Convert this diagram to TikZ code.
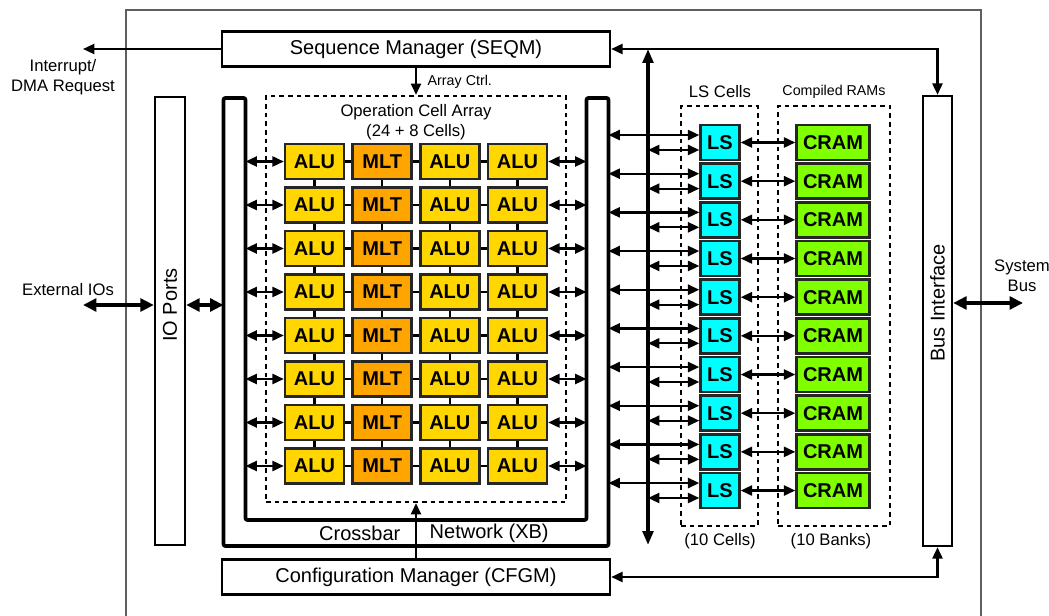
\documentclass[tikz,border=0pt]{standalone}
\usepackage{fontspec}
\setmainfont{Liberation Sans}
\usetikzlibrary{arrows.meta,positioning,calc}
\definecolor{alucolor}{RGB}{255,214,0}
\definecolor{mltcolor}{RGB}{255,165,0}
\definecolor{lscolor}{RGB}{0,255,255}
\definecolor{cramcolor}{RGB}{128,255,0}
\definecolor{framecolor}{RGB}{95,95,95}
\newcommand{\bigfont}{\fontsize{15}{18}\selectfont}
\newcommand{\midfont}{\fontsize{12.5}{15}\selectfont}
\newcommand{\smallfont}{\fontsize{10.7}{13}\selectfont}
\tikzset{
  blockbox/.style={draw, line width=1.8pt, minimum height=26.25pt, inner sep=0pt, font=\bigfont},
  cellbox/.style={draw=black!85, line width=1.8pt, minimum width=44.25pt, minimum height=26.25pt, inner sep=0pt, font=\bigfont\bfseries},
  lsbox/.style={cellbox, fill=lscolor, minimum width=29.25pt},
  crambox/.style={cellbox, fill=cramcolor, minimum width=54.75pt},
  groupbox/.style={draw, line width=1.7pt, dash pattern=on 3.5pt off 3pt, inner sep=0pt},
  celllink/.style={line width=1.6pt},
  biarrow/.style={{Triangle[length=8.5pt,width=7.5pt]}-{Triangle[length=8.5pt,width=7.5pt]}, line width=1.7pt},
  onearrow/.style={-{Triangle[length=8.5pt,width=7.5pt]}, line width=1.7pt},
  fatarrow/.style={{Triangle[length=10pt,width=9.5pt]}-{Triangle[length=10pt,width=9.5pt]}, line width=3pt},
  busarrow/.style={{Triangle[length=10.5pt,width=8pt]}-{Triangle[length=10.5pt,width=8pt]}, line width=2.5pt},
}

\begin{document}
\begin{tikzpicture}[x=0.75pt, y=-0.75pt]
  \useasboundingbox (0,0) rectangle (1049,616);
  % Chip outline (runs off the bottom edge)
  \draw[framecolor, line width=1.3pt] (126,640) |- (981,10) -- (981,640);

  % Managers and interfaces
  \node[blockbox, minimum width=291pt] (seqm) at (416,49) {Sequence Manager (SEQM)};
  \node[blockbox, minimum width=291pt] (cfgm) at (416,577) {Configuration Manager (CFGM)};
  \node[blockbox, minimum width=22.5pt, minimum height=336pt] (iop) at (170,321) {};
  \node[blockbox, minimum width=21.75pt, minimum height=337.5pt] (bif) at (937.5,321) {};
  \coordinate (extio) at (83,305);
  \coordinate (sysbus) at (1023,303);
  \node[font=\bigfont, rotate=90] (ioptext) at (iop |- extio) {IO Ports};
  \node[font=\bigfont, rotate=90] (biftext) at (bif |- sysbus) {Bus Interface};

  % Crossbar network (U shape)
  \draw[line width=2.8pt, rounded corners=1.5pt] (223.5,98) -- (223.5,546) -- (608.5,546) -- (608.5,98)
    -- (586.5,98) -- (586.5,520) -- (245.5,520) -- (245.5,98) -- cycle;
  \coordinate (xbW) at (223.5,0);
  \coordinate (xbL) at (245.5,0);
  \coordinate (xbR) at (586.5,0);
  \coordinate (xbE) at (608.5,0);
  \node[font=\bigfont, anchor=east] (xbname) at (405,533) {Crossbar};
  \node[font=\bigfont, anchor=west] (xbnet) at (425,533) {Network (XB)};

  % Operation cell array
  \node[groupbox, minimum width=225pt, minimum height=304.5pt] (oca) at (416,299) {};
  \node[font=\midfont, align=center] (ocaname) at (416,122) {Operation Cell Array\\(24 + 8 Cells)};
  \foreach \r in {1,...,8} {
    \foreach \c/\kind/\clr in {1/ALU/alucolor,2/MLT/mltcolor,3/ALU/alucolor,4/ALU/alucolor}
      \node[cellbox, fill=\clr] (cell-\c-\r) at ({314.5+67.67*(\c-1)},{161.5+43.5*(\r-1)}) {\kind};
    \foreach \c [evaluate=\c as \n using int(\c+1)] in {1,2,3}
      \draw[celllink] (cell-\c-\r) -- (cell-\n-\r);
    \draw[biarrow] (cell-1-\r.west) -- (cell-1-\r.west -| xbL);
    \draw[biarrow] (cell-4-\r.east) -- (cell-4-\r.east -| xbR);
  }
  \foreach \r [evaluate=\r as \n using int(\r+1)] in {1,...,7}
    \foreach \c in {1,...,4}
      \draw[celllink] (cell-\c-\r) -- (cell-\c-\n);

  % Control paths
  \draw[onearrow] (seqm.south) -- (oca.north);
  \node[font=\smallfont, anchor=west] (ctrl) at (423,82) {Array Ctrl.};
  \draw[onearrow] (cfgm.north) -- (oca.south);

  % LS cells and compiled RAMs
  \node[groupbox, minimum width=57.75pt, minimum height=315pt] (lsgrp) at (719.5,316) {};
  \node[groupbox, minimum width=84pt, minimum height=315pt] (ramgrp) at (834,316) {};
  \node[font=\midfont] (lsname) at (720,92) {LS Cells};
  \node[font=\smallfont] (ramname) at (834,92) {Compiled RAMs};
  \node[font=\midfont] (lscount) at (720,541) {(10 Cells)};
  \node[font=\midfont] (ramcount) at (831,541) {(10 Banks)};
  \coordinate (vbus) at (648,0);
  \foreach \k in {1,...,10} {
    \node[lsbox] (ls-\k) at (720,{142.5+38.67*(\k-1)}) {LS};
    \node[crambox] (cram-\k) at (833,{142.5+38.67*(\k-1)}) {CRAM};
    \draw[biarrow] (ls-\k) -- (cram-\k);
    \draw[biarrow] ([yshift=5.6pt]ls-\k.west) -- ([yshift=5.6pt]ls-\k.west -| xbE);
    \draw[biarrow] ([yshift=-5.6pt]ls-\k.west) -- ([yshift=-5.6pt]ls-\k.west -| vbus);
  }
  \coordinate (busend) at (648,545);
  \draw[busarrow] (seqm.east -| vbus) -- (busend);

  % Bus interface links
  \draw[biarrow] (seqm.east) -| (bif.north);
  \draw[biarrow] (cfgm.east) -| (bif.south);

  % External connections
  \coordinate (irq) at (83,49);
  \draw[onearrow] (seqm.west) -- (irq);
  \node[font=\midfont, align=center] (irqname) at (63,77) {Interrupt/\\DMA Request};
  \draw[fatarrow] (extio) -- (extio -| iop.west);
  \draw[fatarrow] (extio -| iop.east) -- (extio -| xbW);
  \node[font=\midfont] (extname) at (68,290) {External IOs};
  \draw[fatarrow] (sysbus -| bif.east) -- (sysbus);
  \node[font=\midfont, align=center] (busname) at (1022,276) {System\\Bus};
\end{tikzpicture}
\end{document}
